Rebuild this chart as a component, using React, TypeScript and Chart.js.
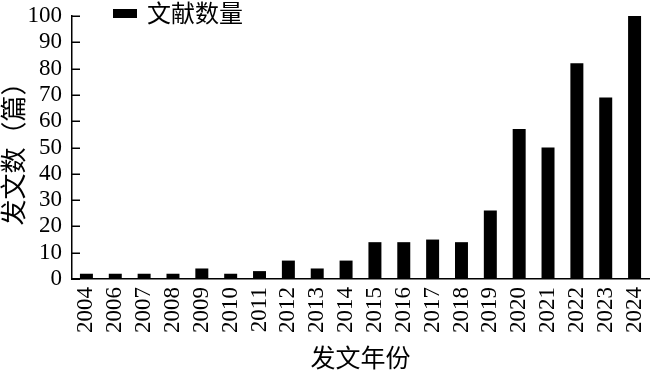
import React, { useEffect, useRef } from "react";
import { Chart, registerables } from "chart.js";

Chart.register(...registerables);

const years = ["2004", "2006", "2007", "2008", "2009", "2010", "2011", "2012", "2013", "2014", "2015", "2016", "2017", "2018", "2019", "2020", "2021", "2022", "2023", "2024"];
const counts = [2, 2, 2, 2, 4, 2, 3, 7, 4, 7, 14, 14, 15, 14, 26, 57, 50, 82, 69, 100];
const seriesLabel = "文献数量";
const xTitle = "发文年份";
const yTitle = "发文数（篇）";

const SERIF = "'Liberation Serif', 'Times New Roman', serif";
const CJK = "'Liberation Serif', 'Noto Sans CJK SC', serif";

const legendPlugin = {
  id: "innerLegend",
  afterDraw(chart: any) {
    const { ctx, chartArea } = chart;
    const ds = chart.data.datasets[0];
    ctx.save();
    // inward tick marks on the y axis
    const ys = chart.scales.y;
    ctx.strokeStyle = "#000";
    ctx.lineWidth = 1.5;
    ys.ticks.forEach((t: any) => {
      const py = Math.round(ys.getPixelForValue(t.value)) + 0.25;
      ctx.beginPath();
      ctx.moveTo(chartArea.left, py);
      ctx.lineTo(chartArea.left + 8, py);
      ctx.stroke();
    });
    // legend
    const bx = chartArea.left + 41;
    const by = 9;
    ctx.fillStyle = ds.backgroundColor;
    ctx.fillRect(bx, by, 24, 9);
    ctx.fillStyle = "#000";
    ctx.font = `24px ${CJK}`;
    ctx.textBaseline = "middle";
    ctx.textAlign = "left";
    ctx.fillText(ds.label, bx + 34, by + 7);
    ctx.restore();
  },
};

export default function App() {
  const ref = useRef<HTMLCanvasElement>(null);
  useEffect(() => {
    document.body.style.margin = "0";
    const chart = new Chart(ref.current!, {
      type: "bar",
      data: {
        labels: years,
        datasets: [
          {
            label: seriesLabel,
            data: counts,
            backgroundColor: "#000",
            borderWidth: 0,
            barPercentage: 0.45,
            categoryPercentage: 1,
          },
        ],
      },
      options: {
        responsive: false,
        animation: false,
        layout: { padding: { top: 16, right: 1, left: 0, bottom: 0 } },
        plugins: { legend: { display: false }, tooltip: { enabled: false } },
        scales: {
          x: {
            grid: { display: false, drawTicks: false },
            border: { display: true, color: "#000", width: 1.5 },
            ticks: {
              color: "#000",
              font: { family: SERIF, size: 23 },
              maxRotation: 90,
              minRotation: 90,
              padding: 8,
              autoSkip: false,
            },
            title: {
              display: true,
              text: xTitle,
              color: "#000",
              font: { family: CJK, size: 25 },
              padding: { top: 0, bottom: 2 },
            },
            afterFit: (s: any) => {
              s.height = 98;
              s.paddingLeft = 0;
              s.paddingRight = 0;
            },
          },
          y: {
            min: 0,
            max: 100,
            grid: { display: false, drawTicks: false },
            border: { display: true, color: "#000", width: 1.5 },
            ticks: {
              stepSize: 10,
              autoSkip: false,
              color: "#000",
              font: { family: SERIF, size: 23 },
              padding: 10,
            },
            title: {
              display: true,
              text: yTitle,
              color: "#000",
              font: { family: CJK, size: 26 },
              padding: { top: 1, bottom: 0 },
            },
            afterFit: (s: any) => {
              s.width = 72;
              s.paddingTop = 0;
              s.paddingBottom = 0;
            },
          },
        },
      },
      plugins: [legendPlugin],
    });
    return () => chart.destroy();
  }, []);
  return (
    <div style={{ width: 650, height: 377 }}>
      <canvas ref={ref} width={650} height={377} />
    </div>
  );
}
